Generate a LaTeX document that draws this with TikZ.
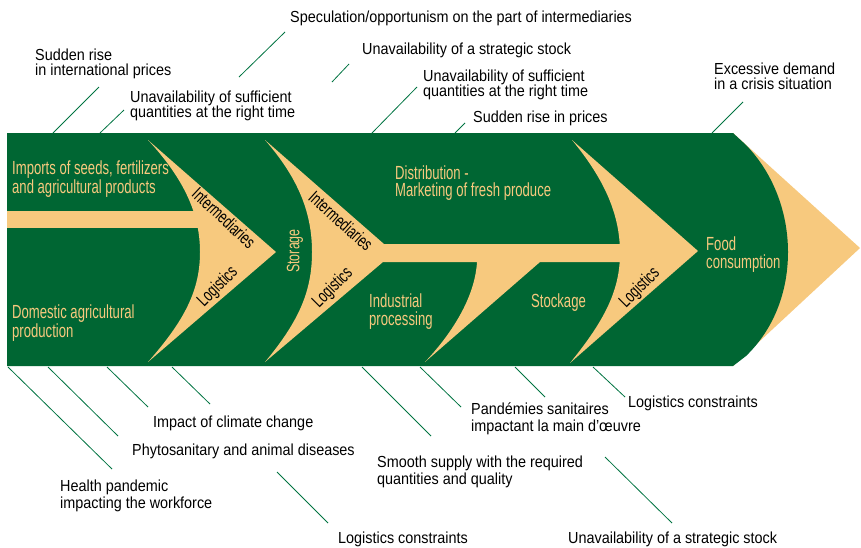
\documentclass[tikz,border=0pt]{standalone}
\usepackage{fontspec}
\newfontfamily\lblfont[FakeStretch=0.9]{Liberation Sans}
\newfontfamily\cndfont[FakeStretch=0.69]{Liberation Sans}
\definecolor{leafgreen}{RGB}{0,102,51}
\definecolor{wheat}{RGB}{247,201,126}
\definecolor{leadgreen}{RGB}{0,115,65}
\begin{document}
\begin{tikzpicture}[x=1pt,y=-1pt,
  toplbl/.style={anchor=north west,inner sep=0,align=left,font=\lblfont\fontsize{16}{15}\selectfont},
  botlbl/.style={anchor=north west,inner sep=0,align=left,font=\lblfont\fontsize{16}{17.5}\selectfont},
  stage/.style={anchor=north west,inner sep=0,align=left,text=wheat,font=\cndfont\fontsize{19}{17.5}\selectfont},
  flowtag/.style={inner sep=0,font=\cndfont\fontsize{18}{18}\selectfont},
  leader/.style={draw=leadgreen,line width=0.8pt}]
\useasboundingbox (0,0) rectangle (861,547);

% outer arrowhead and main body
\fill[wheat] (733,133) -- (860,248) -- (733,366) -- cycle;
\fill[leafgreen] (7,133) -- (733,133) -- (746,145)
  .. controls (775,175) and (788,215) .. (788,252)
  .. controls (788,290) and (775,328) .. (746,356)
  -- (733,366) -- (7,366) -- cycle;

% first chevron with its left shaft
\fill[wheat] (7,211) rectangle (198,228);
\fill[wheat] (148,140) -- (276,252) -- (148,362)
  .. controls (185,320) and (200,290) .. (200,252)
  .. controls (200,215) and (185,180) .. (148,140) -- cycle;

% second chevron with the long shaft
\fill[wheat] (265,140) -- (384,244) -- (625,244) -- (625,262) -- (383,262) -- (265,362)
  .. controls (300,320) and (312,290) .. (312,252)
  .. controls (312,215) and (300,180) .. (265,140) -- cycle;

% lower half chevron on the shaft
\fill[wheat] (425,362) .. controls (455,330) and (475,295) .. (477,262)
  -- (540,262) -- cycle;

% third chevron
\fill[wheat] (572,140) -- (698,251) -- (570,363)
  .. controls (605,320) and (620,290) .. (620,253)
  .. controls (620,215) and (605,180) .. (572,140) -- cycle;

% stage labels
\node[stage] (imports) at (12,161) {Imports of seeds, fertilizers\\and agricultural products};
\node[stage] (domestic) at (12,305) {Domestic agricultural\\production};
\node[stage] (distrib) at (395,165.5) {Distribution -\\Marketing of fresh produce};
\node[stage] (industry) at (369,294) {Industrial\\processing};
\node[stage] (stockage) at (531,294) {Stockage};
\node[stage] (food) at (706,237) {Food\\consumption};
\node[flowtag,text=wheat,rotate=90] (storage) at (295,251) {Storage};

% tags along the chevrons
\node[flowtag,rotate=-43] (inter1) at (224,218) {Intermediaries};
\node[flowtag,rotate=45] (logi1) at (218,287) {Logistics};
\node[flowtag,rotate=-42] (inter2) at (341,221) {Intermediaries};
\node[flowtag,rotate=45] (logi2) at (333,288) {Logistics};
\node[flowtag,rotate=45] (logi3) at (640,288) {Logistics};

% risks above the chain
\node[toplbl] (spec) at (290,10.3) {Speculation/opportunism on the part of intermediaries};
\node[toplbl] (intlprice) at (35,48.3) {Sudden rise\\in international prices};
\node[toplbl] (stocktop) at (362,42.8) {Unavailability of a strategic stock};
\node[toplbl] (suffleft) at (130,90.3) {Unavailability of sufficient\\quantities at the right time};
\node[toplbl] (suffright) at (423,69.3) {Unavailability of sufficient\\quantities at the right time};
\node[toplbl] (prices) at (473,110.3) {Sudden rise in prices};
\node[toplbl] (excess) at (714,62.3) {Excessive demand\\in a crisis situation};

% risks below the chain
\node[botlbl] (climate) at (153,415.3) {Impact of climate change};
\node[botlbl] (phyto) at (132,443.3) {Phytosanitary and animal diseases};
\node[botlbl] (health) at (60,479.3) {Health pandemic\\impacting the workforce};
\node[botlbl] (logleft) at (338,531.3) {Logistics constraints};
\node[botlbl] (smooth) at (377,455.3) {Smooth supply with the required\\quantities and quality};
\node[botlbl] (pandem) at (471,402.3) {Pandémies sanitaires\\impactant la main d’œuvre};
\node[botlbl] (logright) at (628,395.3) {Logistics constraints};
\node[botlbl] (stockbot) at (568,531.3) {Unavailability of a strategic stock};

% leader end points
\coordinate (a1) at (285,32);   \coordinate (b1) at (239,77);
\coordinate (a2) at (99,87);    \coordinate (b2) at (53,133);
\coordinate (a3) at (349,64);   \coordinate (b3) at (332,82);
\coordinate (a4) at (124,110);  \coordinate (b4) at (100,133);
\coordinate (a5) at (417,87);   \coordinate (b5) at (372,133);
\coordinate (a6) at (465,123);  \coordinate (b6) at (455,133);
\coordinate (a7) at (743,102);  \coordinate (b7) at (712,133);
\coordinate (c1) at (8,367);    \coordinate (d1) at (112,469);
\coordinate (c2) at (48,367);   \coordinate (d2) at (118,436);
\coordinate (c3) at (107,367);  \coordinate (d3) at (148,407);
\coordinate (c4) at (172,367);  \coordinate (d4) at (210,404);
\coordinate (c5) at (277,472);  \coordinate (d5) at (328,523);
\coordinate (c6) at (362,367);  \coordinate (d6) at (431,436);
\coordinate (c7) at (420,367);  \coordinate (d7) at (461,407);
\coordinate (c8) at (515,367);  \coordinate (d8) at (545,397);
\coordinate (c9) at (593,367);  \coordinate (d9) at (625,397);
\coordinate (c10) at (605,457); \coordinate (d10) at (672,523);

\foreach \i in {1,...,7} {\draw[leader] (a\i) -- (b\i);}
\foreach \i in {1,...,10} {\draw[leader] (c\i) -- (d\i);}
\end{tikzpicture}
\end{document}
